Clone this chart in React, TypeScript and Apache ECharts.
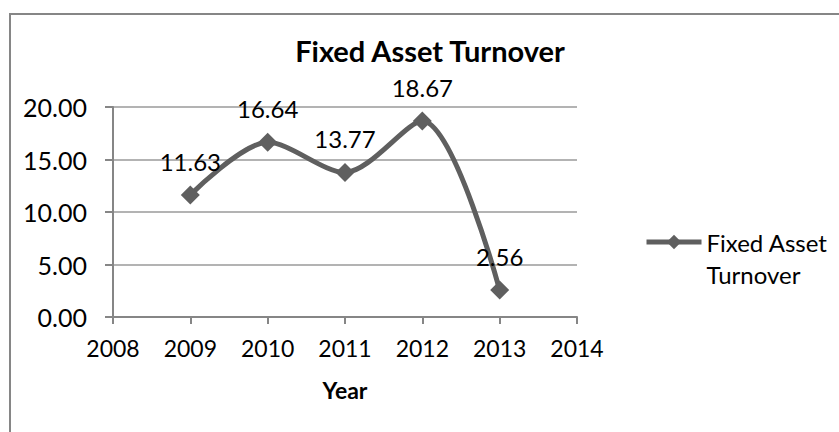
import React, { useEffect, useRef } from "react";
import * as echarts from "echarts";

const years = [2009, 2010, 2011, 2012, 2013];
const turnover = [11.63, 16.64, 13.77, 18.67, 2.56];
const seriesName = "Fixed Asset Turnover";
const chartTitle = "Fixed Asset Turnover";
const xName = "Year";

export default function App() {
  const ref = useRef<HTMLDivElement>(null);
  useEffect(() => {
    if (!ref.current) return;
    const chart = echarts.init(ref.current, null, { renderer: "svg" });
    const font = "Lato, 'Open Sans', sans-serif";
    chart.setOption({
      animation: false,
      backgroundColor: "#ffffff",
      textStyle: { fontFamily: font },
      graphic: [
        {
          type: "rect",
          shape: { x: 10, y: 14, width: 840, height: 430 },
          style: { fill: "none", stroke: "#868686", lineWidth: 2 },
          z: -1,
        },
      ],
      title: {
        text: chartTitle,
        left: 430,
        textAlign: "center",
        top: 36,
        textStyle: { fontFamily: font, fontWeight: "bold", fontSize: 29, color: "#000" },
        padding: 0,
      },
      grid: { left: 113, right: 262, top: 107, bottom: 115 },
      legend: {
        data: [seriesName],
        left: 644,
        top: 194,
        padding: 0,
        itemWidth: 55,
        itemHeight: 18,
        lineStyle: { width: 5, color: "#5f5f5f" },
        formatter: () => "\nFixed Asset\nTurnover",
        textStyle: {
          fontFamily: font,
          fontSize: 24,
          color: "#000",
          lineHeight: 32,
        },
      },
      xAxis: {
        type: "value",
        min: 2008,
        max: 2014,
        interval: 1,
        name: xName,
        nameLocation: "middle",
        nameGap: 61,
        nameTextStyle: { fontFamily: font, fontWeight: "bold", fontSize: 23, color: "#000" },
        axisLine: { show: true, lineStyle: { color: "#868686", width: 2 } },
        axisTick: { show: true, inside: false, length: 7, lineStyle: { color: "#868686", width: 2 } },
        axisLabel: { margin: 19, fontFamily: font, fontSize: 23, color: "#000", formatter: (v: number) => String(v) },
        splitLine: { show: false },
      },
      yAxis: {
        type: "value",
        min: 0,
        max: 20,
        interval: 5,
        axisLine: { show: true, lineStyle: { color: "#868686", width: 2 } },
        axisTick: { show: true, inside: false, length: 8, lineStyle: { color: "#868686", width: 2 } },
        axisLabel: { margin: 26, fontFamily: font, fontSize: 25, color: "#000", formatter: (v: number) => v.toFixed(2) },
        splitLine: { show: true, lineStyle: { color: "#9a9a9a", width: 1.5 } },
      },
      series: [
        {
          name: seriesName,
          type: "line",
          data: years.map((y, i) => [y, turnover[i]]),
          smooth: 0.3,
          symbol: "diamond",
          symbolSize: 19,
          lineStyle: { color: "#5f5f5f", width: 5 },
          itemStyle: { color: "#5f5f5f" },
          label: {
            show: true,
            position: "top",
            distance: 12,
            fontFamily: font,
            fontSize: 24,
            color: "#000",
            formatter: (p: any) => p.value[1].toFixed(2),
          },
        },
      ],
    });
    return () => chart.dispose();
  }, []);
  return (
    <div
      ref={ref}
      style={{ position: "fixed", left: 0, top: 0, width: 839, height: 432 }}
    />
  );
}
